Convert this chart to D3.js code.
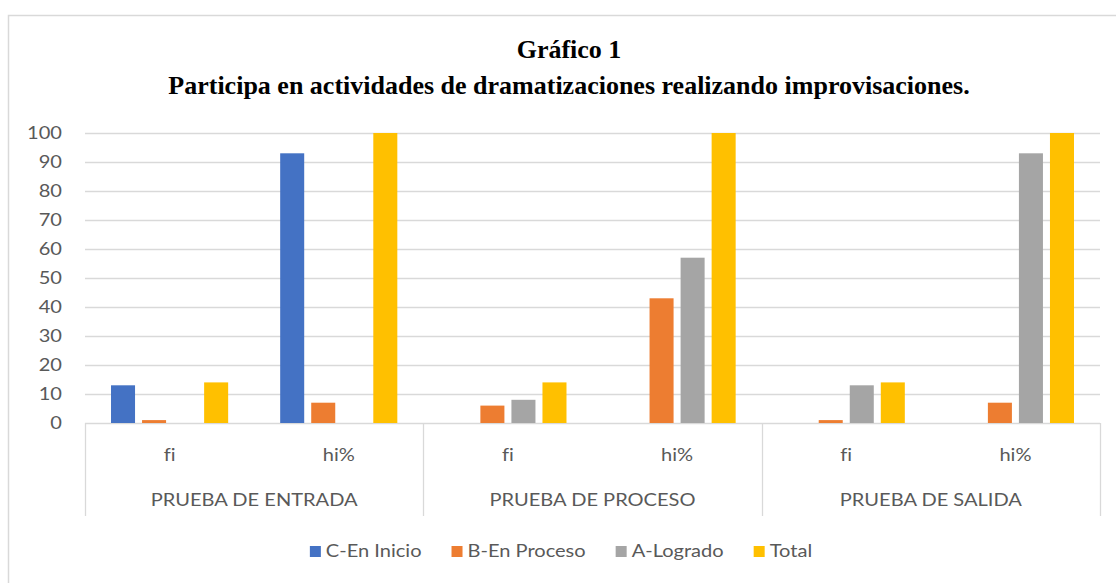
<!DOCTYPE html>
<html>
<head>
<meta charset="utf-8">
<script src="https://cdn.jsdelivr.net/npm/d3@7"></script>
<style>
  html, body { margin: 0; padding: 0; background: #fff; }
  svg { display: block; }
  svg text { font-variant-ligatures: none; font-feature-settings: "liga" 0; }
</style>
</head>
<body>
<svg id="chart" width="1116" height="583"></svg>
<script>
// Data
const groups = ["PRUEBA DE ENTRADA", "PRUEBA DE PROCESO", "PRUEBA DE SALIDA"];
const subCats = ["fi", "hi%"];
const seriesNames = ["C-En Inicio", "B-En Proceso", "A-Logrado", "Total"];
const seriesColors = ["#4472C4", "#ED7D31", "#A5A5A5", "#FFC000"];
// values per series, ordered: ENTRADA fi, ENTRADA hi%, PROCESO fi, PROCESO hi%, SALIDA fi, SALIDA hi%
const cInicio  = [13, 93, 0, 0, 0, 0];
const bProceso = [1, 7, 6, 43, 1, 7];
const aLogrado = [0, 0, 8, 57, 13, 93];
const total    = [14, 100, 14, 100, 14, 100];
const yTicks = [0, 10, 20, 30, 40, 50, 60, 70, 80, 90, 100];
const titleLines = ["Gráfico 1", "Participa en actividades de dramatizaciones realizando improvisaciones."];

const seriesValues = [cInicio, bProceso, aLogrado, total];

const svg = d3.select("#chart");
const W = 1116, H = 583;
const plot = { left: 85, right: 1100, top: 133, bottom: 423 };
const textColor = "#595959";
const lineColor = "#d9d9d9";
const sansFont = "Lato, 'Open Sans', sans-serif";
const stretch = 1.18;

// chart frame
svg.append("rect")
  .attr("x", 8.5).attr("y", 15.5)
  .attr("width", W + 20).attr("height", H + 20)
  .attr("fill", "#fff").attr("stroke", lineColor).attr("stroke-width", 1.5);

// title
svg.selectAll("text.title").data(titleLines).join("text")
  .attr("class", "title")
  .attr("x", 569).attr("y", (d, i) => 58 + i * 36)
  .attr("text-anchor", "middle")
  .attr("font-family", "'Liberation Serif', 'Times New Roman', serif")
  .attr("font-weight", "bold")
  .attr("font-size", 26)
  .attr("fill", "#000")
  .text(d => d);

// scales
const y = d3.scaleLinear().domain([0, 100]).range([plot.bottom, plot.top]);
const xGroup = d3.scaleBand().domain(groups).range([plot.left, plot.right]);
const xSub = d3.scaleBand().domain(subCats).range([0, xGroup.bandwidth()]);
const xSeries = d3.scaleBand().domain(seriesNames).range([0, xSub.bandwidth()])
  .paddingInner(0.226).paddingOuter(0.838);

// gridlines
svg.append("g").selectAll("line").data(yTicks).join("line")
  .attr("x1", plot.left).attr("x2", plot.right)
  .attr("y1", d => Math.round(y(d)) + 0.5).attr("y2", d => Math.round(y(d)) + 0.5)
  .attr("stroke", lineColor).attr("stroke-width", 1.3);

// y tick labels
svg.append("g").selectAll("text").data(yTicks).join("text")
  .attr("transform", d => `translate(62,${y(d) + 6}) scale(${stretch},1)`)
  .attr("text-anchor", "end")
  .attr("font-family", sansFont).attr("font-size", 17)
  .attr("fill", textColor)
  .text(d => d);

// bars
const flat = [];
groups.forEach((g, gi) => subCats.forEach((s, si) => seriesNames.forEach((n, ni) => {
  flat.push({ g, s, n, color: seriesColors[ni], v: seriesValues[ni][gi * subCats.length + si] });
})));
svg.append("g").selectAll("rect").data(flat).join("rect")
  .attr("x", d => xGroup(d.g) + xSub(d.s) + xSeries(d.n))
  .attr("width", xSeries.bandwidth())
  .attr("y", d => y(d.v))
  .attr("height", d => y(0) - y(d.v))
  .attr("fill", d => d.color);

// category axis separators
const seps = groups.map(g => xGroup(g)).concat([plot.right]);
svg.append("g").selectAll("line").data(seps).join("line")
  .attr("x1", d => Math.round(d) + 0.5).attr("x2", d => Math.round(d) + 0.5)
  .attr("y1", plot.bottom).attr("y2", 516)
  .attr("stroke", lineColor).attr("stroke-width", 1.3);

// sub-category labels
const subLabels = [];
groups.forEach(g => subCats.forEach(s => subLabels.push({ g, s })));
svg.append("g").selectAll("text").data(subLabels).join("text")
  .attr("transform", d => `translate(${xGroup(d.g) + xSub(d.s) + xSub.bandwidth() / 2},461) scale(${stretch},1)`)
  .attr("text-anchor", "middle")
  .attr("font-family", sansFont).attr("font-size", 17)
  .attr("fill", textColor)
  .text(d => d.s);

// group labels
svg.append("g").selectAll("text").data(groups).join("text")
  .attr("transform", d => `translate(${xGroup(d) + xGroup.bandwidth() / 2},506) scale(${stretch},1)`)
  .attr("text-anchor", "middle")
  .attr("font-family", sansFont).attr("font-size", 17)
  .attr("fill", textColor)
  .text(d => d);

// legend
const legend = svg.append("g");
let lx = 0;
const legendGap = 30;
seriesNames.forEach((n, i) => {
  const gItem = legend.append("g");
  gItem.append("rect").attr("x", 0).attr("y", -11).attr("width", 11).attr("height", 11)
    .attr("fill", seriesColors[i]);
  const t = gItem.append("text")
    .attr("transform", `translate(16,0) scale(${stretch},1)`)
    .attr("font-family", sansFont).attr("font-size", 17)
    .attr("fill", textColor).text(n);
  const w = 16 + t.node().getComputedTextLength() * stretch;
  gItem.attr("transform", `translate(${lx},0)`);
  lx += w + legendGap;
});
const legendWidth = lx - legendGap;
legend.attr("transform", `translate(${561 - legendWidth / 2},557)`);
</script>
</body>
</html>
